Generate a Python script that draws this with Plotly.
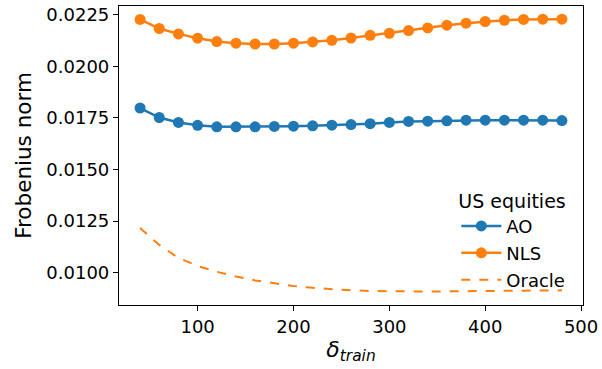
import plotly.graph_objects as go

# training window sizes
delta_train = [40, 60, 80, 100, 120, 140, 160, 180, 200, 220, 240, 260,
               280, 300, 320, 340, 360, 380, 400, 420, 440, 460, 480]

ao = [0.01798, 0.01752, 0.01728, 0.01714, 0.01707, 0.01707, 0.01707, 0.01709,
      0.01710, 0.01712, 0.01715, 0.01718, 0.01722, 0.01728, 0.01733, 0.01734,
      0.01736, 0.01739, 0.01739, 0.01739, 0.01739, 0.01739, 0.01737]

nls = [0.02227, 0.02183, 0.02157, 0.02136, 0.02120, 0.02112, 0.02108, 0.02108,
       0.02112, 0.02118, 0.02126, 0.02137, 0.02150, 0.02160, 0.02173, 0.02186,
       0.02199, 0.02209, 0.02217, 0.02223, 0.02227, 0.02228, 0.02228]

oracle = [0.01217, 0.01135, 0.01072, 0.01033, 0.01005, 0.00982, 0.00963, 0.00948,
          0.00936, 0.00927, 0.00920, 0.00915, 0.00912, 0.00910, 0.00909, 0.00909,
          0.00910, 0.00911, 0.00912, 0.00913, 0.00914, 0.00914, 0.00915]

y_ticks = [0.0100, 0.0125, 0.0150, 0.0175, 0.0200, 0.0225]
x_ticks = [100, 200, 300, 400, 500]

BLUE = "#1f77b4"
ORANGE = "#ff7f0e"
FONT = "DejaVu Sans"

fig = go.Figure()
fig.add_trace(go.Scatter(x=delta_train, y=ao, name="AO", mode="lines+markers",
                         legendgroup="ao",
                         line=dict(color=BLUE, width=2.5),
                         marker=dict(color=BLUE, size=11)))
fig.add_trace(go.Scatter(x=delta_train, y=nls, name="NLS", mode="lines+markers",
                         legendgroup="nls",
                         line=dict(color=ORANGE, width=2.5),
                         marker=dict(color=ORANGE, size=11)))
fig.add_trace(go.Scatter(x=delta_train, y=oracle, name="Oracle", mode="lines",
                         legendgroup="oracle",
                         line=dict(color=ORANGE, width=2, dash="dash")))

axis_common = dict(showline=True, linecolor="black", linewidth=1.2, mirror=True,
                   ticks="outside", ticklen=5, tickwidth=1.2, tickcolor="black",
                   showgrid=False, zeroline=False,
                   tickfont=dict(family=FONT, size=18, color="black"))

fig.update_xaxes(range=[18, 502], tickvals=x_ticks,
                 title=dict(text="<i>δ</i><sub><i>train</i></sub>",
                            font=dict(family=FONT, size=22, color="black"),
                            standoff=5),
                 **axis_common)
fig.update_yaxes(range=[0.00844, 0.02292], tickvals=y_ticks, tickformat=".4f",
                 title=dict(text="Frobenius norm",
                            font=dict(family=FONT, size=21.5, color="black"),
                            standoff=8),
                 **axis_common)

fig.update_layout(
    width=602, height=369,
    margin=dict(l=119, r=16, t=4, b=64),
    plot_bgcolor="white", paper_bgcolor="white",
    font=dict(family=FONT, size=18, color="black"),
    legend=dict(title=dict(text="US equities", font=dict(family=FONT, size=19)),
                x=0.727, y=0.408, xanchor="left", yanchor="top",
                bgcolor="rgba(255,255,255,0)", borderwidth=0,
                tracegroupgap=0.5,
                font=dict(family=FONT, size=18), itemwidth=40),
    showlegend=True,
)

fig.write_html("out.html")
